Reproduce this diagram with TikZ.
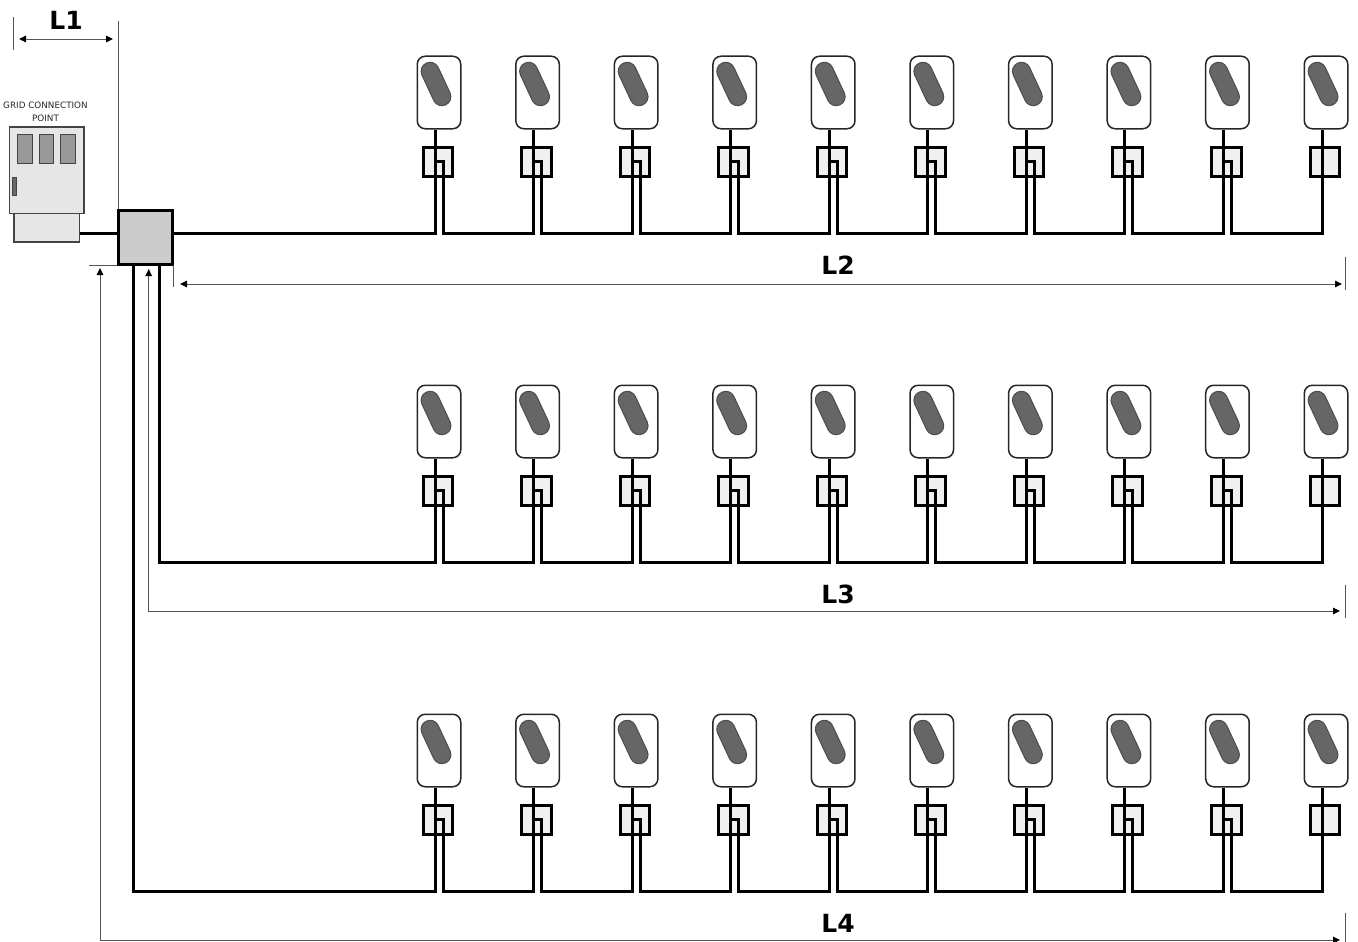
\documentclass[tikz,border=0pt]{standalone}
\usepackage{fontspec}
\setmainfont{DejaVu Sans}
\usetikzlibrary{arrows.meta}
\definecolor{cabfill}{HTML}{E6E6E6}
\definecolor{cabline}{HTML}{444444}
\definecolor{winfill}{HTML}{999999}
\definecolor{boxfill}{HTML}{CCCCCC}
\definecolor{meterfill}{HTML}{F0F0F0}
\definecolor{capfill}{HTML}{666666}
\definecolor{dimline}{HTML}{555555}
\tikzset{
  wire/.style={draw=black,line width=3pt,line join=miter},
  charger/.style={draw=black!85,fill=white,line width=1.5pt,rounded corners=8pt,minimum width=43.5pt,minimum height=72.5pt,inner sep=0pt},
  capsule/.style={draw=black!70,fill=capfill,line width=1pt,rounded corners=8.9pt,minimum width=18pt,minimum height=46pt,inner sep=0pt,rotate=25},
  meter/.style={draw=black,fill=meterfill,line width=3pt,minimum width=29.5pt,minimum height=29pt,inner sep=0pt},
  cabinet/.style={draw=cabline,fill=cabfill,line width=1.4pt,inner sep=0pt},
  window/.style={draw=cabline,fill=winfill,line width=1pt,minimum width=14.5pt,minimum height=29.5pt,inner sep=0pt},
  junction/.style={draw=black,fill=boxfill,line width=3pt,minimum width=54.5pt,minimum height=54.5pt,inner sep=0pt},
  dimtick/.style={draw=dimline,line width=0.9pt},
  dimarrow/.style={draw=dimline,line width=0.9pt},
  biglabel/.style={font=\fontsize{25}{25}\selectfont\bfseries,inner sep=0pt},
  smalllabel/.style={font=\fontsize{8.8}{13}\selectfont,text=black!85,align=center,inner sep=0pt},
}
\begin{document}
\begin{tikzpicture}[x=1pt,y=-1pt,
  tip/.tip={Triangle[length=7pt,width=6.5pt,black]}]
\useasboundingbox (0,0) rectangle (1358,942);
% grid connection cabinet
\node[smalllabel] (gridlabel) at (45.5,112) {GRID CONNECTION\\POINT};
\node[cabinet,minimum width=65.5pt,minimum height=28.5pt] (cabbase) at (46.75,227.75) {};
\node[cabinet,minimum width=74.5pt,minimum height=86.5pt] (cab) at (46.75,170.25) {};
\node[window] (w1) at (24.75,148.75) {};
\node[window] (w2) at (46.25,148.75) {};
\node[window] (w3) at (67.75,148.75) {};
\node[draw=cabline,fill=cabline!80,line width=0.8pt,minimum width=4pt,minimum height=17.5pt,inner sep=0pt] (handle) at (14.8,186.2) {};
% junction box
\node[junction] (jb) at (145.5,237.5) {};
\draw[wire] (cabbase.east |- jb) ++(0,-4.5) coordinate (cabout) -- (cabout -| jb.west);
% chargers
\foreach \r/\dy in {1/0,2/329,3/658}{
  \foreach \i in {0,...,9}{
    \pgfmathsetmacro{\xc}{439+98.56*\i}
    \pgfmathsetmacro{\yc}{92.5+\dy}
    \pgfmathsetmacro{\ym}{162+\dy}
    \pgfmathsetmacro{\yb}{233+\dy}
    \node[charger] (c-\r-\i) at (\xc,\yc) {};
    \node[capsule] (p-\r-\i) at (\xc-3,\yc-8.5) {};
    \node[meter] (m-\r-\i) at (\xc-1.2,\ym) {};
    \coordinate (a-\r-\i) at (\xc-4,\yb);
    \coordinate (b-\r-\i) at (\xc+4,\yb);
    \coordinate (r-\r-\i) at (\xc+4,\ym-1);
    \coordinate (e-\r-\i) at (\xc-3,\ym-1);
  }
  \foreach \i in {0,...,8}{
    \pgfmathtruncatemacro{\n}{\i+1}
    \draw[wire] (e-\r-\i) -- (r-\r-\i) -- (b-\r-\i) -- (a-\r-\n) -- ([xshift=-4pt]c-\r-\n.south);
  }
}
% feeders
\draw[wire] (jb.east |- a-1-0) -- (a-1-0) -- ([xshift=-4pt]c-1-0.south);
\draw[wire] ([xshift=13.5pt]jb.south) |- (a-2-0) -- ([xshift=-4pt]c-2-0.south);
\draw[wire] ([xshift=-12.5pt]jb.south) |- (a-3-0) -- ([xshift=-4pt]c-3-0.south);
% dimensions
\coordinate (t1a) at (13,17); \coordinate (t1b) at (13,50);
\draw[dimtick] (t1a) -- (t1b);
\coordinate (t2a) at (118,21);
\draw[dimtick] (t2a) -- (t2a |- jb.north);
\coordinate (l1a) at (19,39); \coordinate (l1b) at (113,39);
\draw[dimarrow,{tip}-{tip}] (l1a) -- (l1b);
\node[biglabel] (L1) at (66,20) {L1};
% L2
\coordinate (t3a) at (173,265); \coordinate (t3b) at (173,287);
\draw[dimtick] (t3a) -- (t3b);
\coordinate (t4a) at (1345,257); \coordinate (t4b) at (1345,290);
\draw[dimtick] (t4a) -- (t4b);
\coordinate (l2a) at (180,284); \coordinate (l2b) at (1342,284);
\draw[dimarrow,{tip}-{tip}] (l2a) -- (l2b);
\node[biglabel] (L2) at (838,265) {L2};
% L3
\coordinate (l3a) at (148.7,269); \coordinate (l3c) at (148.7,611); \coordinate (l3b) at (1340,611);
\draw[dimarrow,{tip}-{tip}] (l3a) -- (l3c) -- (l3b);
\coordinate (t5a) at (1345,585); \coordinate (t5b) at (1345,618);
\draw[dimtick] (t5a) -- (t5b);
\node[biglabel] (L3) at (838,594) {L3};
% L4
\coordinate (t6a) at (89,265);
\draw[dimtick] (t6a) -- (t6a -| jb.west);
\coordinate (l4a) at (100,268); \coordinate (l4c) at (100,940); \coordinate (l4b) at (1340,940);
\draw[dimarrow,{tip}-{tip}] (l4a) -- (l4c) -- (l4b);
\coordinate (t7a) at (1345,913); \coordinate (t7b) at (1345,942);
\draw[dimtick] (t7a) -- (t7b);
\node[biglabel] (L4) at (838,923) {L4};
\end{tikzpicture}
\end{document}
